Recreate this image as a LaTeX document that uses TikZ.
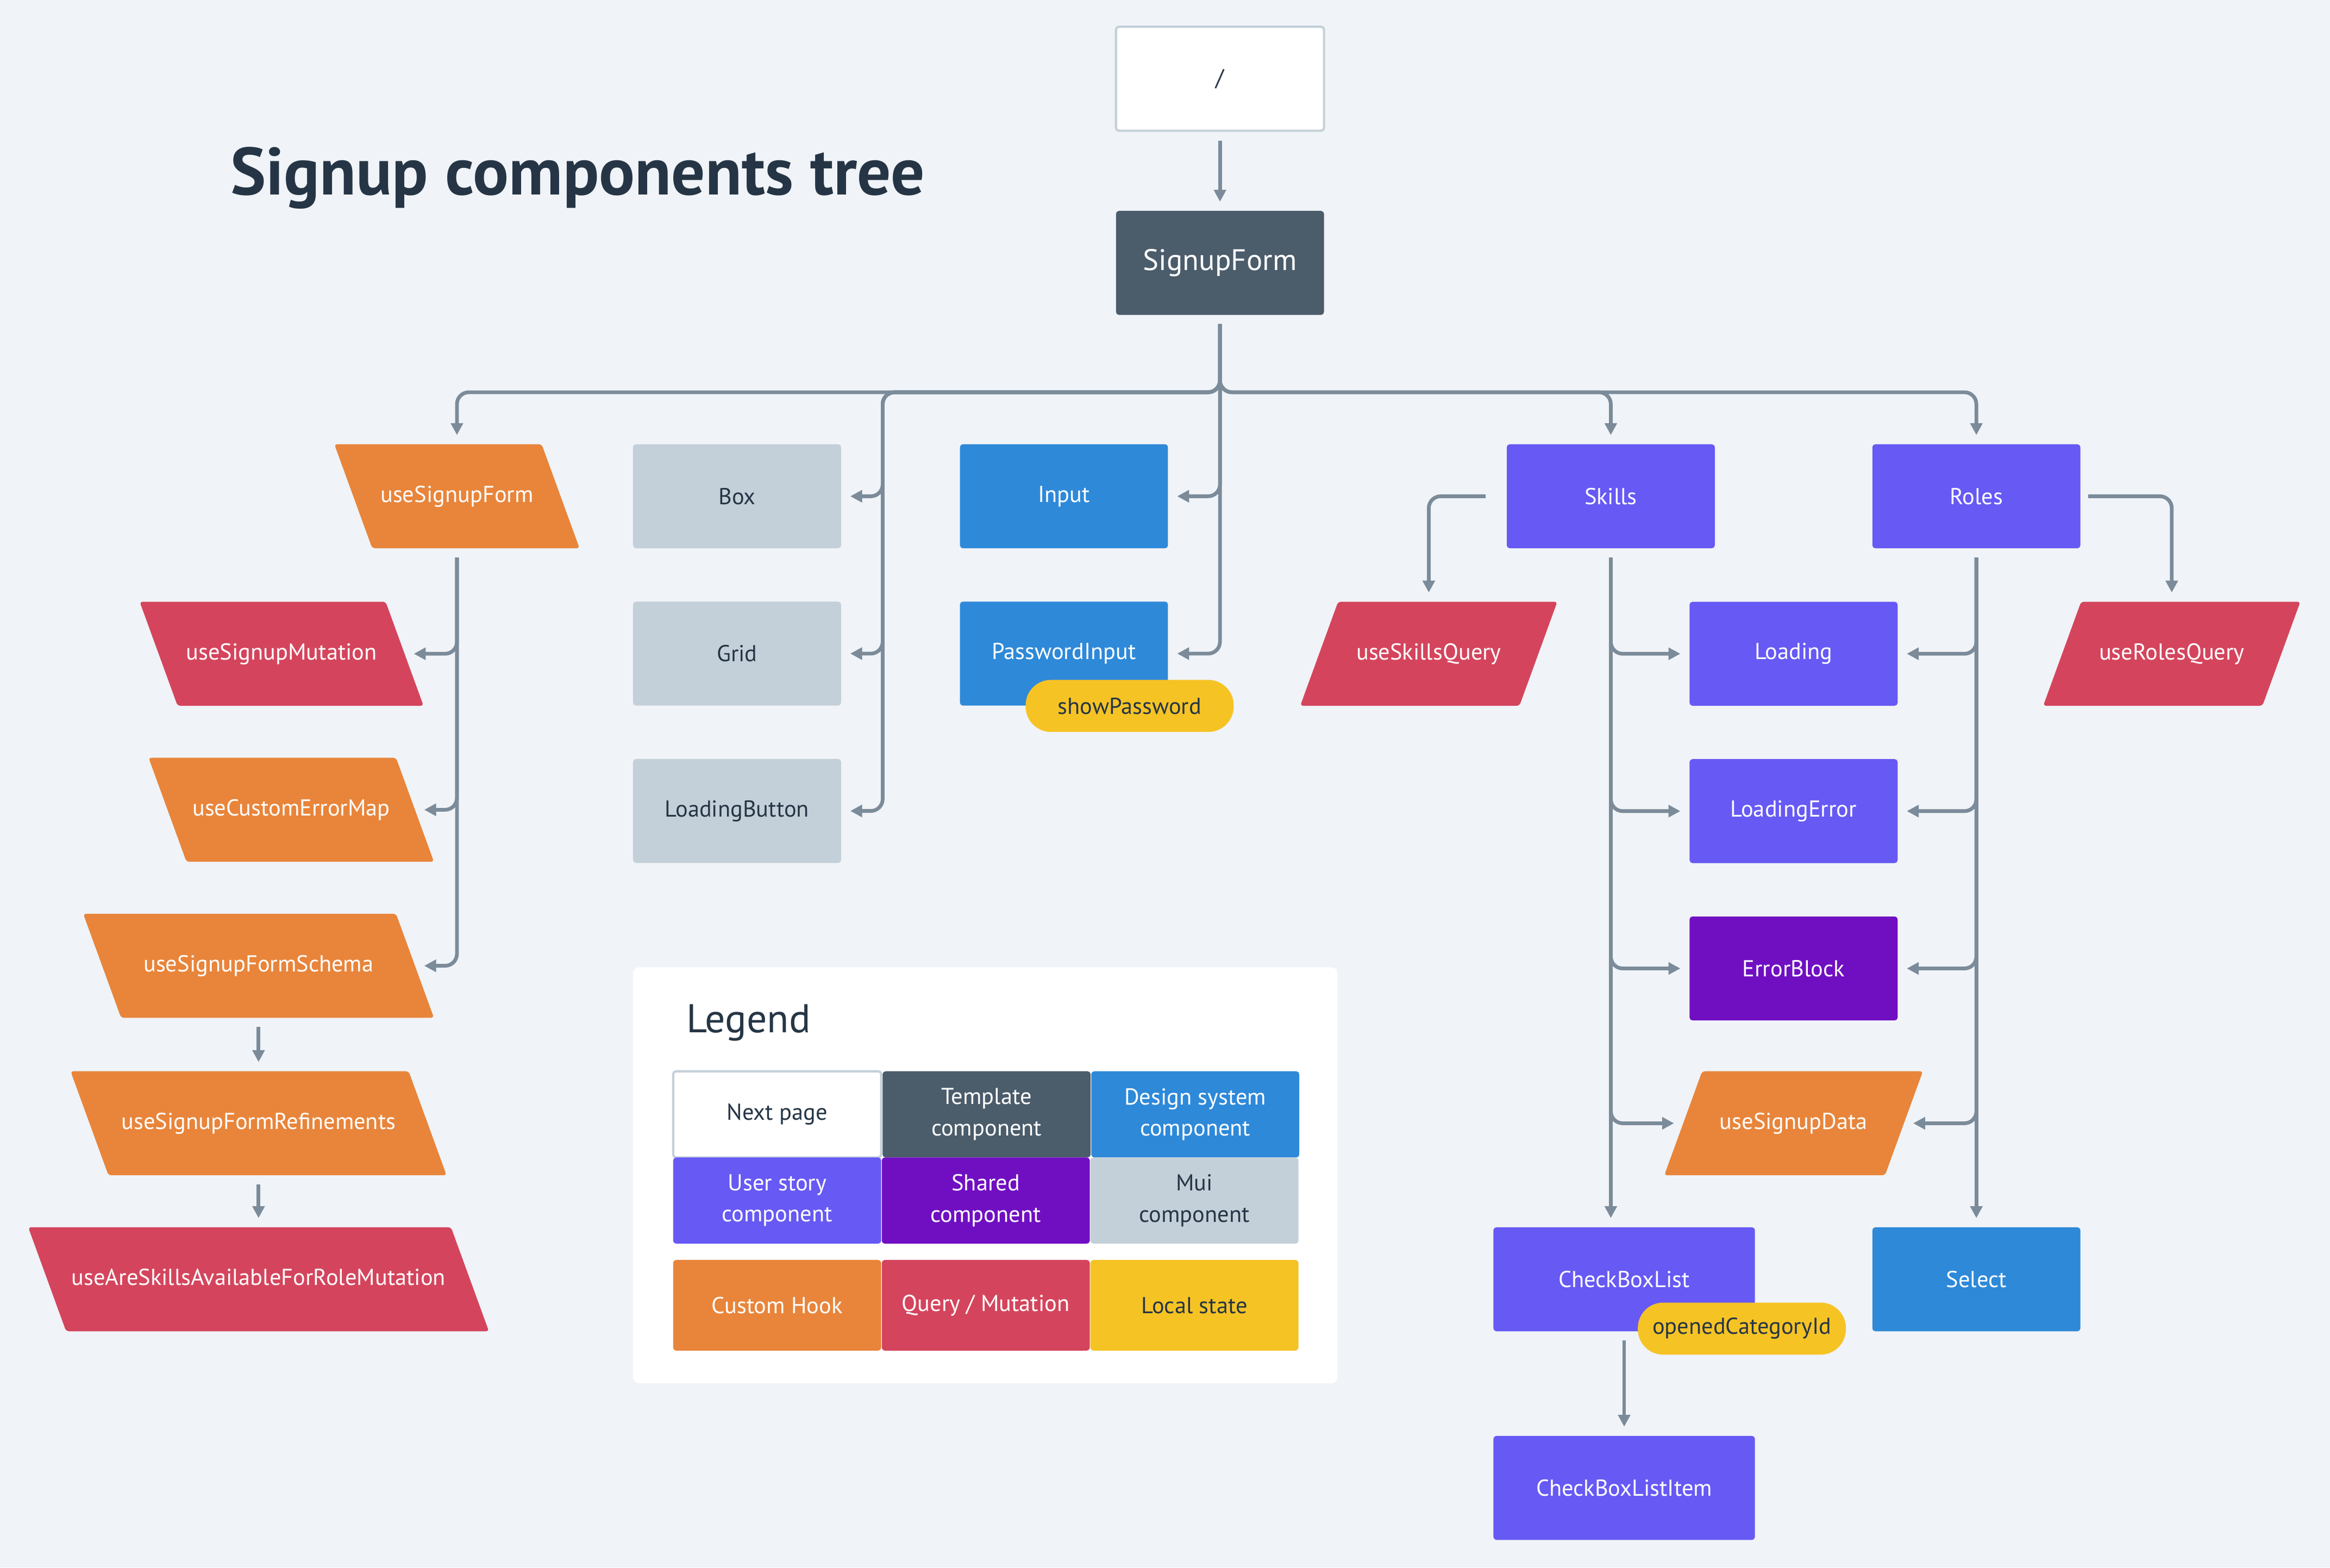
\documentclass[tikz,border=0pt]{standalone}
\usepackage{fontspec}
\setmainfont{PT Sans}
\usetikzlibrary{arrows.meta,shapes.geometric,positioning}

\definecolor{canvas}{RGB}{240,243,247}
\definecolor{ink}{RGB}{37,53,69}
\definecolor{linegrey}{RGB}{123,139,154}
\definecolor{slate}{RGB}{75,92,107}
\definecolor{dsblue}{RGB}{46,137,217}
\definecolor{story}{RGB}{103,89,244}
\definecolor{shared}{RGB}{112,15,194}
\definecolor{mui}{RGB}{196,208,217}
\definecolor{hook}{RGB}{232,133,59}
\definecolor{query}{RGB}{212,69,93}
\definecolor{localstate}{RGB}{246,195,37}

\begin{document}
\begin{tikzpicture}[
        x=1pt, y=-1pt,
        node distance=35.5pt,
        >={Triangle[length=8pt,width=8pt]},
        every node/.style={align=center, inner sep=0pt},
        link/.style={->, draw=linegrey, line width=2.5pt, rounded corners=8pt, shorten <=6pt, shorten >=6pt},
        box/.style={rectangle, rounded corners=2pt, minimum width=140pt, minimum height=70pt, text=white, font=\fontsize{15.5}{21}\selectfont},
        pagebox/.style={box, fill=white, draw=mui, line width=1.5pt, text=ink},
        templatebox/.style={box, fill=slate},
        dsbox/.style={box, fill=dsblue},
        storybox/.style={box, fill=story},
        sharedbox/.style={box, fill=shared},
        muibox/.style={box, fill=mui, text=ink},
        slanted/.style={trapezium, trapezium stretches body=true, text height=11pt, text depth=3pt, inner ysep=28pt, rounded corners=2pt, text=white, font=\fontsize{15.5}{21}\selectfont},
        backslant/.style={trapezium left angle=110, trapezium right angle=70},
        fwdslant/.style={trapezium left angle=70, trapezium right angle=110},
        hookbox/.style={slanted, fill=hook},
        querybox/.style={slanted, fill=query},
        statepill/.style={rectangle, rounded corners=17pt, minimum width=140pt, minimum height=35pt, fill=localstate, text=ink, font=\fontsize{15.5}{21}\selectfont},
        cell/.style={minimum height=58pt},
        hookcell/.style={box, fill=hook, minimum height=61pt},
        querycell/.style={box, fill=query, minimum height=61pt},
        statecell/.style={box, fill=localstate, text=ink, minimum height=61pt}
    ]

    \fill[canvas] (0,0) rectangle (1568,1055);

    % Nodes
    \node[anchor=base west, text=ink, font=\fontsize{45}{50}\selectfont\bfseries] (title) at (155,131) {Signup components tree};

    \node[pagebox] (root) at (821,53) {/};
    \node[templatebox, below=53pt of root, font=\fontsize{20}{24}\selectfont] (signup) {SignupForm};

    \node[hookbox, backslant, minimum width=165pt] (form) at (307.5,334) {useSignupForm};
    \node[querybox, backslant, minimum width=191pt] (mutation) at (189.5,440) {useSignupMutation};
    \node[hookbox, backslant, minimum width=192pt] (errormap) at (196,545) {useCustomErrorMap};
    \node[hookbox, backslant, minimum width=236pt] (schema) at (174,650) {useSignupFormSchema};
    \node[hookbox, backslant, minimum width=253pt] (refinements) at (174,756) {useSignupFormRefinements};
    \node[querybox, backslant, minimum width=310pt] (areskills) at (174,861) {useAreSkillsAvailableForRoleMutation};

    \node[muibox] (box) at (496,334) {Box};
    \node[muibox, below=of box] (grid) {Grid};
    \node[muibox, below=of grid] (loadbutton) {LoadingButton};

    \node[dsbox] (input) at (716,334) {Input};
    \node[dsbox, below=of input] (password) {PasswordInput};
    \node[statepill] (showpw) at ([xshift=-26pt]password.south east) {showPassword};

    \node[storybox] (skills) at (1084,334) {Skills};
    \node[storybox] (roles) at (1330,334) {Roles};
    \node[querybox, fwdslant, minimum width=173pt] (skillsquery) at (961.5,440) {useSkillsQuery};
    \node[querybox, fwdslant, minimum width=173pt] (rolesquery) at (1461.5,440) {useRolesQuery};
    \node[storybox] (loading) at (1207,440) {Loading};
    \node[storybox, below=of loading] (loaderror) {LoadingError};
    \node[sharedbox, below=of loaderror] (errorblock) {ErrorBlock};
    \node[hookbox, fwdslant, minimum width=174pt] (signupdata) at (1207,756) {useSignupData};
    \node[storybox, minimum width=176pt] (checklist) at (1093,861) {CheckBoxList};
    \node[statepill] (opened) at ([xshift=-9pt,yshift=2pt]checklist.south east) {openedCategoryId};
    \node[storybox, minimum width=176pt, below=70pt of checklist] (checkitem) {CheckBoxListItem};
    \node[dsbox] (select) at (1330,861) {Select};

    % Legend
    \node[fill=white, rounded corners=4pt, minimum width=474pt, minimum height=280pt] (legend) at (663,791) {};
    \node[anchor=base west, text=ink, font=\fontsize{27}{30}\selectfont] (legendtitle) at (462,695) {Legend};
    \node[pagebox, cell] (lnext) at (523,750) {Next page};
    \node[templatebox, cell, right=0pt of lnext] (ltemplate) {Template\\component};
    \node[dsbox, cell, right=0pt of ltemplate] (ldesign) {Design system\\component};
    \node[storybox, cell] (lstory) at (523,808) {User story\\component};
    \node[sharedbox, cell, right=0pt of lstory] (lshared) {Shared\\component};
    \node[muibox, cell, right=0pt of lshared] (lmui) {Mui\\component};
    \node[hookcell] (lhook) at (523,878.5) {Custom Hook};
    \node[querycell, right=0pt of lhook] (lquery) {Query / Mutation};
    \node[statecell, right=0pt of lquery] (lstate) {Local state};

    % Edges
    \coordinate (bus) at (821,264);
    \coordinate (muirail) at (594,264);

    \draw[link] (root) -- (signup);
    \draw[link] (signup.south) |- (form.center |- bus) -- (form.center |- form.north);
    \draw[link] (signup.south) |- (muirail) |- (box.east);
    \draw[link] (signup.south) |- (muirail) |- (grid.east);
    \draw[link] (signup.south) |- (muirail) |- (loadbutton.east);
    \draw[link] (signup.south) |- (input.east);
    \draw[link] (signup.south) |- (password.east);
    \draw[link] (signup.south) |- (skills.north |- bus) -- (skills.north);
    \draw[link] (signup.south) |- (roles.north |- bus) -- (roles.north);

    \draw[link] (form.center |- form.south) |- (mutation.right side);
    \draw[link] (form.center |- form.south) |- (errormap.right side);
    \draw[link] (form.center |- form.south) |- (schema.right side);
    \draw[link] (schema.center |- schema.south) -- (refinements.center |- refinements.north);
    \draw[link] (refinements.center |- refinements.south) -- (areskills.center |- areskills.north);

    \draw[link, shorten <=14pt] (skills.west) -| (skillsquery.center |- skillsquery.north);
    \draw[link] (skills.south) |- (loading.west);
    \draw[link] (skills.south) |- (loaderror.west);
    \draw[link] (skills.south) |- (errorblock.west);
    \draw[link] (skills.south) |- (signupdata.left side);
    \draw[link] (skills.south) -- (skills.south |- checklist.north);

    \draw[link, shorten <=5pt] (roles.east) -| (rolesquery.center |- rolesquery.north);
    \draw[link] (roles.south) |- (loading.east);
    \draw[link] (roles.south) |- (loaderror.east);
    \draw[link] (roles.south) |- (errorblock.east);
    \draw[link] (roles.south) |- (signupdata.right side);
    \draw[link] (roles.south) -- (select.north);

    \draw[link] (checklist) -- (checkitem);

\end{tikzpicture}
\end{document}
